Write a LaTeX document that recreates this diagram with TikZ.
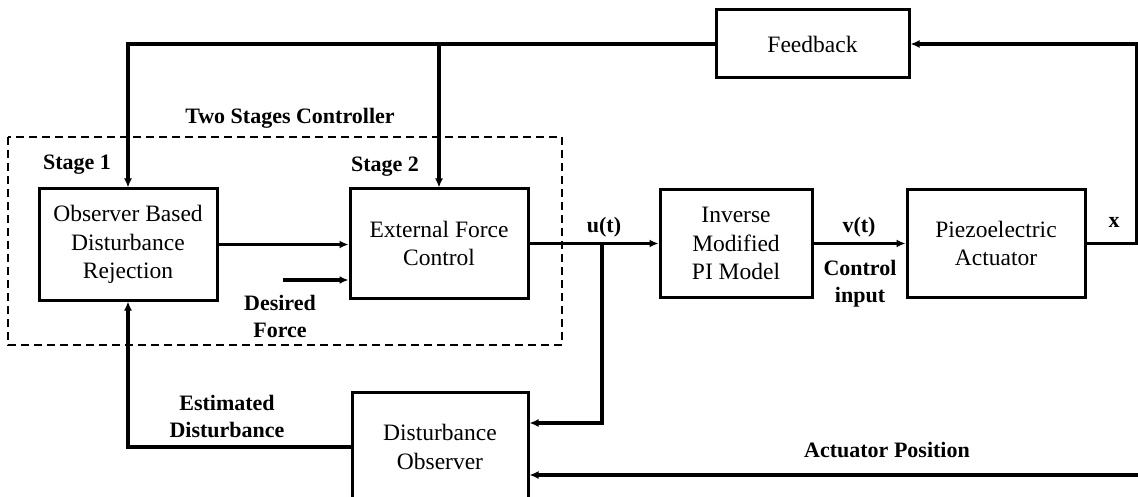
\documentclass[tikz,border=0pt]{standalone}
\usepackage{fontspec}
\setmainfont{Liberation Serif}
\usetikzlibrary{arrows.meta,calc}
\begin{document}
\begin{tikzpicture}[x=1pt,y=-1pt,
  blk/.style={draw,line width=3pt,rectangle,align=center,inner sep=0pt,
    font=\fontsize{23.5}{28.5}\selectfont},
  lbl/.style={align=center,inner sep=0pt,font=\fontsize{22}{27}\selectfont\bfseries},
  wire/.style={line width=3.2pt},
  arr/.style={wire,-{Latex[length=9pt,width=8pt]}}]
\useasboundingbox (0,0) rectangle (1138,497);
\clip (0,0) rectangle (1138,497);

% blocks
\node[blk,minimum width=178pt,minimum height=111pt] (obs) at (128,244.5) {Observer Based\\Disturbance\\Rejection};
\node[blk,minimum width=178pt,minimum height=109pt] (efc) at (439,243.5) {External Force\\Control};
\node[blk,minimum width=152pt,minimum height=108pt] (ipi) at (736,243.5) {Inverse\\Modified\\PI Model};
\node[blk,minimum width=178pt,minimum height=107pt] (pza) at (996,243.5) {Piezoelectric\\Actuator};
\node[blk,minimum width=193pt,minimum height=68pt] (fb) at (812.5,44) {Feedback};
\node[blk,minimum width=176pt,minimum height=110pt] (dob) at (440,447) {Disturbance\\Observer};

% two-stage controller frame
\draw[line width=1.4pt,dash pattern=on 8pt off 5pt] (8,137) rectangle (562,345);

% free ends and branch points
\coordinate (xr) at (1137,243.5);
\coordinate (df) at (283,280);
\coordinate (ub) at (602,423);
\coordinate (ap) at (1145,475);

% connectors
\draw[arr] (fb.west) -| (obs.north);
\draw[arr] (fb.west -| efc.north) -- (efc.north);
\draw[arr] (pza.east) -- (xr) |- (fb.east);
\draw[arr] (obs.east) -- (efc.west |- obs.east);
\draw[arr] (df) -- (efc.west |- df);
\draw[arr] (efc.east) -- (ipi.west);
\draw[arr] (ipi.east) -- (pza.west);
\draw[arr] (efc.east -| ub) -- (ub) -- (dob.east |- ub);
\draw[arr] (ap) -- (dob.east |- ap);
\draw[arr] (dob.west) -| (obs.south);

% labels
\node[lbl] (tsc) at (290,118) {Two Stages Controller};
\node[lbl] (s1) at (77,165) {Stage 1};
\node[lbl] (s2) at (385,167) {Stage 2};
\node[lbl] (dfl) at (280,316) {Desired\\Force};
\node[lbl] (ul) at (604,227) {u(t)};
\node[lbl] (vl) at (859,227) {v(t)};
\node[lbl] (cil) at (860,284) {Control\\input};
\node[lbl] (xl) at (1114,222) {x};
\node[lbl] (edl) at (227,417) {Estimated\\Disturbance};
\node[lbl] (apl) at (887,450) {Actuator Position};
\end{tikzpicture}
\end{document}
